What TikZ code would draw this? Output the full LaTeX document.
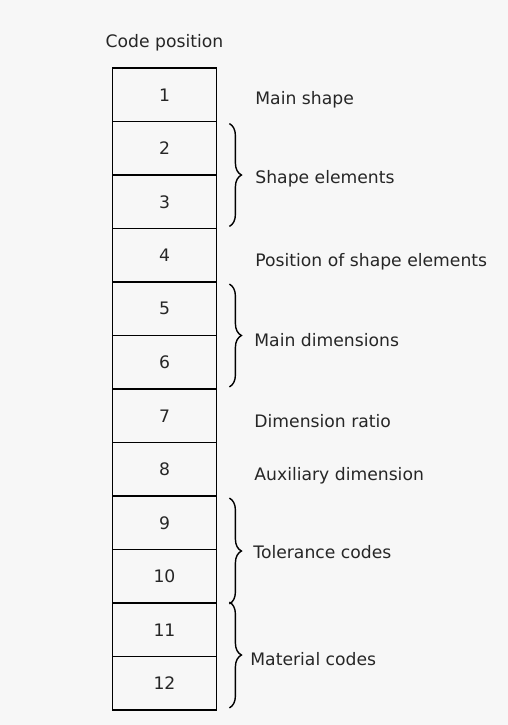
\documentclass[tikz,border=0pt]{standalone}
\usepackage{fontspec}
\setmainfont{DejaVu Sans}
\usetikzlibrary{positioning,decorations.pathreplacing}

\tikzset{
  cell/.style={draw, line width=0.9pt, minimum width=52pt, minimum height=26.75pt,
    inner sep=0pt, font=\fontsize{8.6}{10}\selectfont},
  lbl/.style={anchor=base west, inner sep=0pt, font=\fontsize{8.6}{10}\selectfont},
  grp/.style={decorate, decoration={brace, amplitude=6pt, aspect=0.5}, line width=0.7pt},
}

\begin{document}
\begin{tikzpicture}[x=0.5pt, y=-0.5pt, text=black!85]
\useasboundingbox[fill=gray!6] (0,0) rectangle (508,725);

% column of code positions
\foreach \i in {1,...,12}
  \node[cell] (r\i) at (164.5, {68+53.5*(\i-0.5)}) {\i};
\node[above=4.5pt of r1] (head) {\fontsize{8.6}{10}\selectfont Code position};

% braces for grouped positions
\draw[grp] ([xshift=6pt,yshift=-1.5pt]r2.north east) -- ([xshift=6pt,yshift=1.5pt]r3.south east);
\draw[grp] ([xshift=6pt,yshift=-1.5pt]r5.north east) -- ([xshift=6pt,yshift=1.5pt]r6.south east);
\draw[grp] ([xshift=6pt,yshift=-1.5pt]r9.north east) -- ([xshift=6pt,yshift=0pt]r10.south east);
\draw[grp] ([xshift=6pt,yshift=0pt]r11.north east) -- ([xshift=6pt,yshift=1.5pt]r12.south east);

% meaning of each position
\node[lbl] (mshape) at (255,104) {Main shape};
\node[lbl] (selem) at (255,183) {Shape elements};
\node[lbl] (pos) at (255,266) {Position of shape elements};
\node[lbl] (mdim) at (254,346) {Main dimensions};
\node[lbl] (ratio) at (254,427) {Dimension ratio};
\node[lbl] (aux) at (254,480) {Auxiliary dimension};
\node[lbl] (tol) at (253,558) {Tolerance codes};
\node[lbl] (mat) at (250,665) {Material codes};
\end{tikzpicture}
\end{document}
